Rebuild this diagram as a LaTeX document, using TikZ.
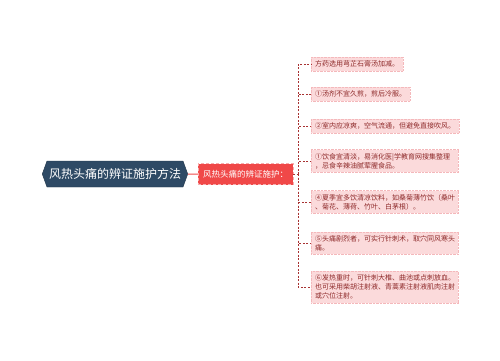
\documentclass[tikz,border=0pt]{standalone}
\usepackage{fontspec}
\setmainfont{Noto Sans CJK SC}
\usetikzlibrary{positioning}
\usetikzlibrary{shapes.symbols}
\definecolor{rootblue}{HTML}{2E4A65}
\definecolor{subred}{HTML}{F04848}
\definecolor{leafpink}{HTML}{FBDADB}
\definecolor{leafedge}{HTML}{F4B8BB}
\definecolor{leaftext}{HTML}{8E2A2A}
\definecolor{trunkred}{HTML}{A83232}

\begin{document}
\begin{tikzpicture}[x=1pt,y=-1pt]
	\useasboundingbox (0,0) rectangle (500,360);
	\tikzstyle{root}=[signal,signal to=west and east,signal pointer angle=140,fill=rootblue,draw=rootblue!70!black,text=white,font=\fontsize{12}{14}\selectfont,minimum height=26pt,inner xsep=2pt]
	\tikzstyle{sub}=[fill=subred,draw=subred!45!white,densely dashed,text=white,font=\fontsize{8.5}{10}\selectfont,minimum height=21pt,inner xsep=5pt]
	\tikzstyle{leaf}=[fill=leafpink,draw=leafedge,densely dotted,text=leaftext,font=\fontsize{7}{9}\selectfont,inner xsep=4pt,inner ysep=3.5pt,anchor=west,align=left]
	\tikzstyle{wide}=[text width=139pt]
	\tikzstyle{elbow}=[to path={|- (\tikztotarget)}]

	\node (root) [root] at (115,174) {风热头痛的辨证施护方法};
	\node (sub) [sub,right=10pt of root] {风热头痛的辨证施护：};

	\node (leaf1) [leaf] at (311,64) {方药选用芎芷石膏汤加减。};
	\node (leaf2) [leaf] at (311,94) {①汤剂不宜久煎，煎后冷服。};
	\node (leaf3) [leaf] at (311,126) {②室内应凉爽，空气流通，但避免直接吹风。};
	\node (leaf4) [leaf,wide] at (311,161) {①饮食宜清淡，易消化医|学教育网搜集整理\\，忌食辛辣油腻荤腥食品。};
	\node (leaf5) [leaf,wide] at (311,202) {④夏季宜多饮清凉饮料，如桑菊薄竹饮（桑叶\\、菊花、薄荷、竹叶、白茅根）。};
	\node (leaf6) [leaf,wide] at (311,243) {⑤头痛剧烈者，可实行针刺术，取穴同风寒头\\痛。};
	\node (leaf7) [leaf,wide] at (311,287) {⑥发热重时，可针刺大椎、曲池或点刺放血。\\也可采用柴胡注射液、青蒿素注射液肌肉注射\\或穴位注射。};

	\coordinate (trunk) at ([xshift=5pt]sub.east);

	\path[draw=subred,line width=1pt] (root) edge (sub);
	\path[draw=trunkred,line width=0.7pt,dash pattern=on 2pt off 1.5pt]
	(sub.east) edge (trunk)
	(trunk) edge[elbow] (leaf1.west)
	(trunk) edge[elbow] (leaf2.west)
	(trunk) edge[elbow] (leaf3.west)
	(trunk) edge[elbow] (leaf4.west)
	(trunk) edge[elbow] (leaf5.west)
	(trunk) edge[elbow] (leaf6.west)
	(trunk) edge[elbow] (leaf7.west);
\end{tikzpicture}
\end{document}
